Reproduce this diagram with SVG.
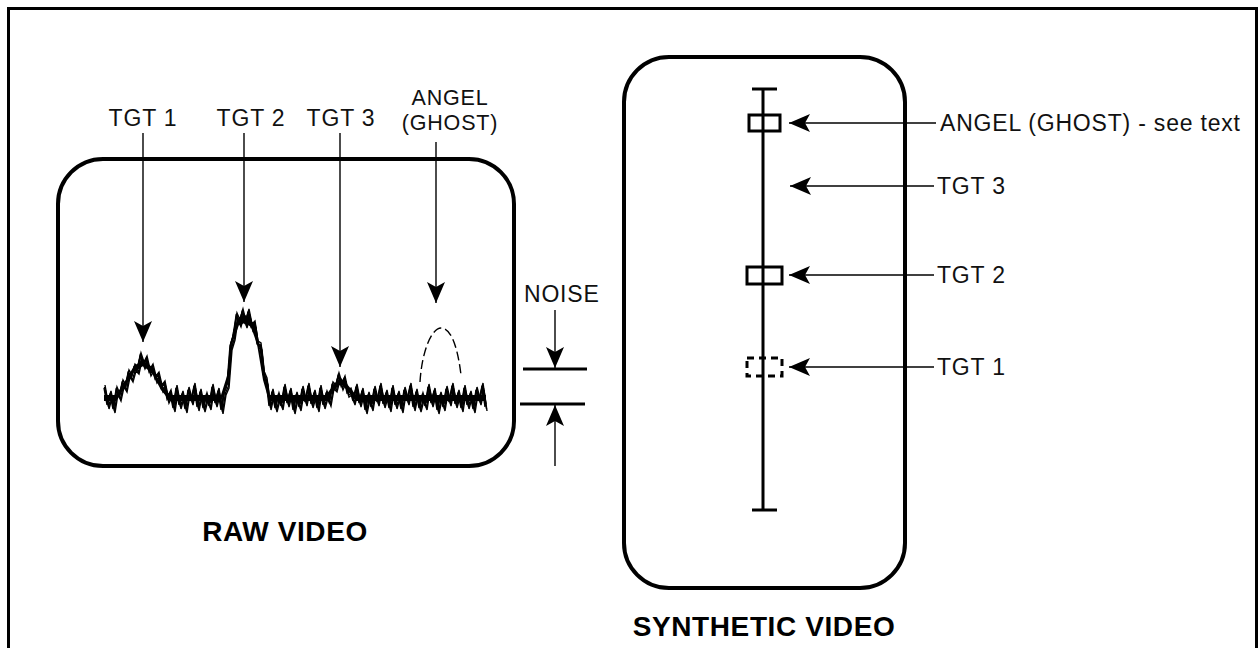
<svg xmlns="http://www.w3.org/2000/svg" xmlns:xlink="http://www.w3.org/1999/xlink" width="1258" height="648" viewBox="0 0 1258 648">
<style>
.lbl{font-family:"Liberation Sans",Arial,sans-serif;font-size:23px;fill:#111;letter-spacing:0.8px}
.sm{font-size:21.5px}
.ttl{font-family:"Liberation Sans",Arial,sans-serif;font-size:28px;font-weight:bold;fill:#000;letter-spacing:0.6px}
.thin{stroke:#000;stroke-width:1.4;fill:none}
.box{stroke:#000;stroke-width:4;fill:none}
.thick{stroke:#000;stroke-width:3;fill:none}
</style>
<defs>
<marker id="ah" viewBox="-23 -11 25 22" refX="0" refY="0" markerWidth="25" markerHeight="22" markerUnits="userSpaceOnUse" orient="auto">
<path d="M0,0 L-21,-9 L-16,0 L-21,9 Z" fill="#000"/>
</marker>
</defs>
<rect width="1258" height="648" fill="#fff"/>
<path d="M8.5,648 V8.5 H1256.5 V648" class="thick"/>

<g id="raw-video">
<rect x="58" y="159" width="456" height="307" rx="45" ry="45" class="box"/>
<g id="noise-trace">
<polygon fill="#000" points="104,395 116,395 125,381 134,366 143,360 152,367 161,384 170,395 221,395 227,376 233,331 239,317 245,315 251,319 257,333 263,369 269,395 326,395 335,383 341,378 347,384 356,395 486,395 486,401 356,401 347,390 341,384 335,389 326,401 269,401 263,380 257,344 251,327 245,323 239,325 233,341 227,388 221,401 170,401 161,390 152,373 143,366 134,372 125,387 116,401 104,401"/>
<polyline id="nz" class="thin" stroke-width="1.8" points="104,388 107,405 110,394 113,409 116,390 119,397 122,383 125,388 128,373 131,378 134,367 137,370 140,356 143,365 146,359 149,372 152,367 155,379 158,375 161,388 164,384 167,399 170,393 173,408 176,388 179,405 182,394 185,409 188,390 191,401 194,386 197,407 200,392 203,408 206,396 209,406 212,387 215,403 218,391 221,410 224,391 227,384 230,346 233,336 236,316 239,323 242,312 245,324 248,312 251,327 254,324 257,344 260,346 263,374 266,381 269,406 272,392 275,408 278,396 281,406 284,387 287,403 290,391 293,410 296,395 299,407 302,389 305,402 308,386 311,404 314,393 317,408 320,388 323,405 326,394 329,402 332,385 335,388 338,376 341,386 344,379 347,393 350,391 353,401 356,387 359,403 362,391 365,410 368,395 371,407 374,389 377,402 380,386 383,404 386,393 389,408 392,388 395,405 398,394 401,409 404,390 407,401 410,386 413,407 416,392 419,408 422,396 425,406 428,387 431,403 434,391 437,410 440,395 443,407 446,389 449,402 452,386 455,404 458,393 461,408 464,388 467,405 470,394 473,409 476,390 479,401 482,386 485,407"/>
<use xlink:href="#nz" transform="translate(1.5,2)"/>
<use xlink:href="#nz" transform="translate(1,-3)"/>
<use xlink:href="#nz" transform="translate(2,4)"/>
<use xlink:href="#nz" transform="translate(0.5,-1)"/>
</g>
<path d="M420,382 C422,350 432,328 441,328 C452,328 458,350 461,375" class="thin" stroke-width="1.3" stroke-dasharray="9 4"/>
<text class="ttl" x="285" y="541" text-anchor="middle">RAW VIDEO</text>
</g>

<g id="raw-labels">
<text class="lbl" x="143" y="126" text-anchor="middle">TGT 1</text>
<text class="lbl" x="251" y="126" text-anchor="middle">TGT 2</text>
<text class="lbl" x="341" y="126" text-anchor="middle">TGT 3</text>
<text class="lbl sm" x="450" y="105" text-anchor="middle">ANGEL</text>
<text class="lbl sm" x="450" y="130" text-anchor="middle">(GHOST)</text>
<text class="lbl" x="524" y="302">NOISE</text>
</g>

<g id="noise-gauge">
<line x1="523" y1="369" x2="587" y2="369" class="thick"/>
<line x1="520" y1="404" x2="585" y2="404" class="thick"/>
</g>

<g id="synthetic-video">
<rect x="624" y="57" width="281" height="531" rx="45" ry="45" class="box"/>
<line x1="763" y1="89" x2="763" y2="510" class="thick"/>
<line x1="752" y1="89" x2="777" y2="89" class="thick"/>
<line x1="752" y1="510" x2="777" y2="510" class="thick"/>
<rect id="blip-angel" x="749" y="115" width="31" height="16" fill="#fff" class="thick"/>
<rect id="blip-tgt2" x="747" y="267" width="35" height="17" fill="#fff" class="thick"/>
<rect id="blip-tgt1" x="747" y="358" width="35" height="18" fill="#fff" class="thick" stroke-dasharray="7 5"/>
<text class="ttl" x="764" y="636" text-anchor="middle">SYNTHETIC VIDEO</text>
</g>

<g id="synthetic-labels">
<text class="lbl" x="940" y="131">ANGEL (GHOST) - see text</text>
<text class="lbl" x="937" y="194">TGT 3</text>
<text class="lbl" x="937" y="283">TGT 2</text>
<text class="lbl" x="937" y="375">TGT 1</text>
</g>

<g id="connectors">
<line x1="143" y1="133" x2="143" y2="342" class="thin" marker-end="url(#ah)"/>
<line x1="244" y1="133" x2="244" y2="302" class="thin" marker-end="url(#ah)"/>
<line x1="340" y1="133" x2="340" y2="367" class="thin" marker-end="url(#ah)"/>
<line x1="436" y1="142" x2="436" y2="303" class="thin" marker-end="url(#ah)"/>
<line x1="555" y1="310" x2="555" y2="368" class="thin" marker-end="url(#ah)"/>
<line x1="555" y1="466" x2="555" y2="405" class="thin" marker-end="url(#ah)"/>
<line x1="936" y1="123" x2="789" y2="123" class="thin" marker-end="url(#ah)"/>
<line x1="934" y1="186" x2="790" y2="186" class="thin" marker-end="url(#ah)"/>
<line x1="934" y1="275" x2="789" y2="275" class="thin" marker-end="url(#ah)"/>
<line x1="934" y1="367" x2="789" y2="367" class="thin" marker-end="url(#ah)"/>
</g>
</svg>
